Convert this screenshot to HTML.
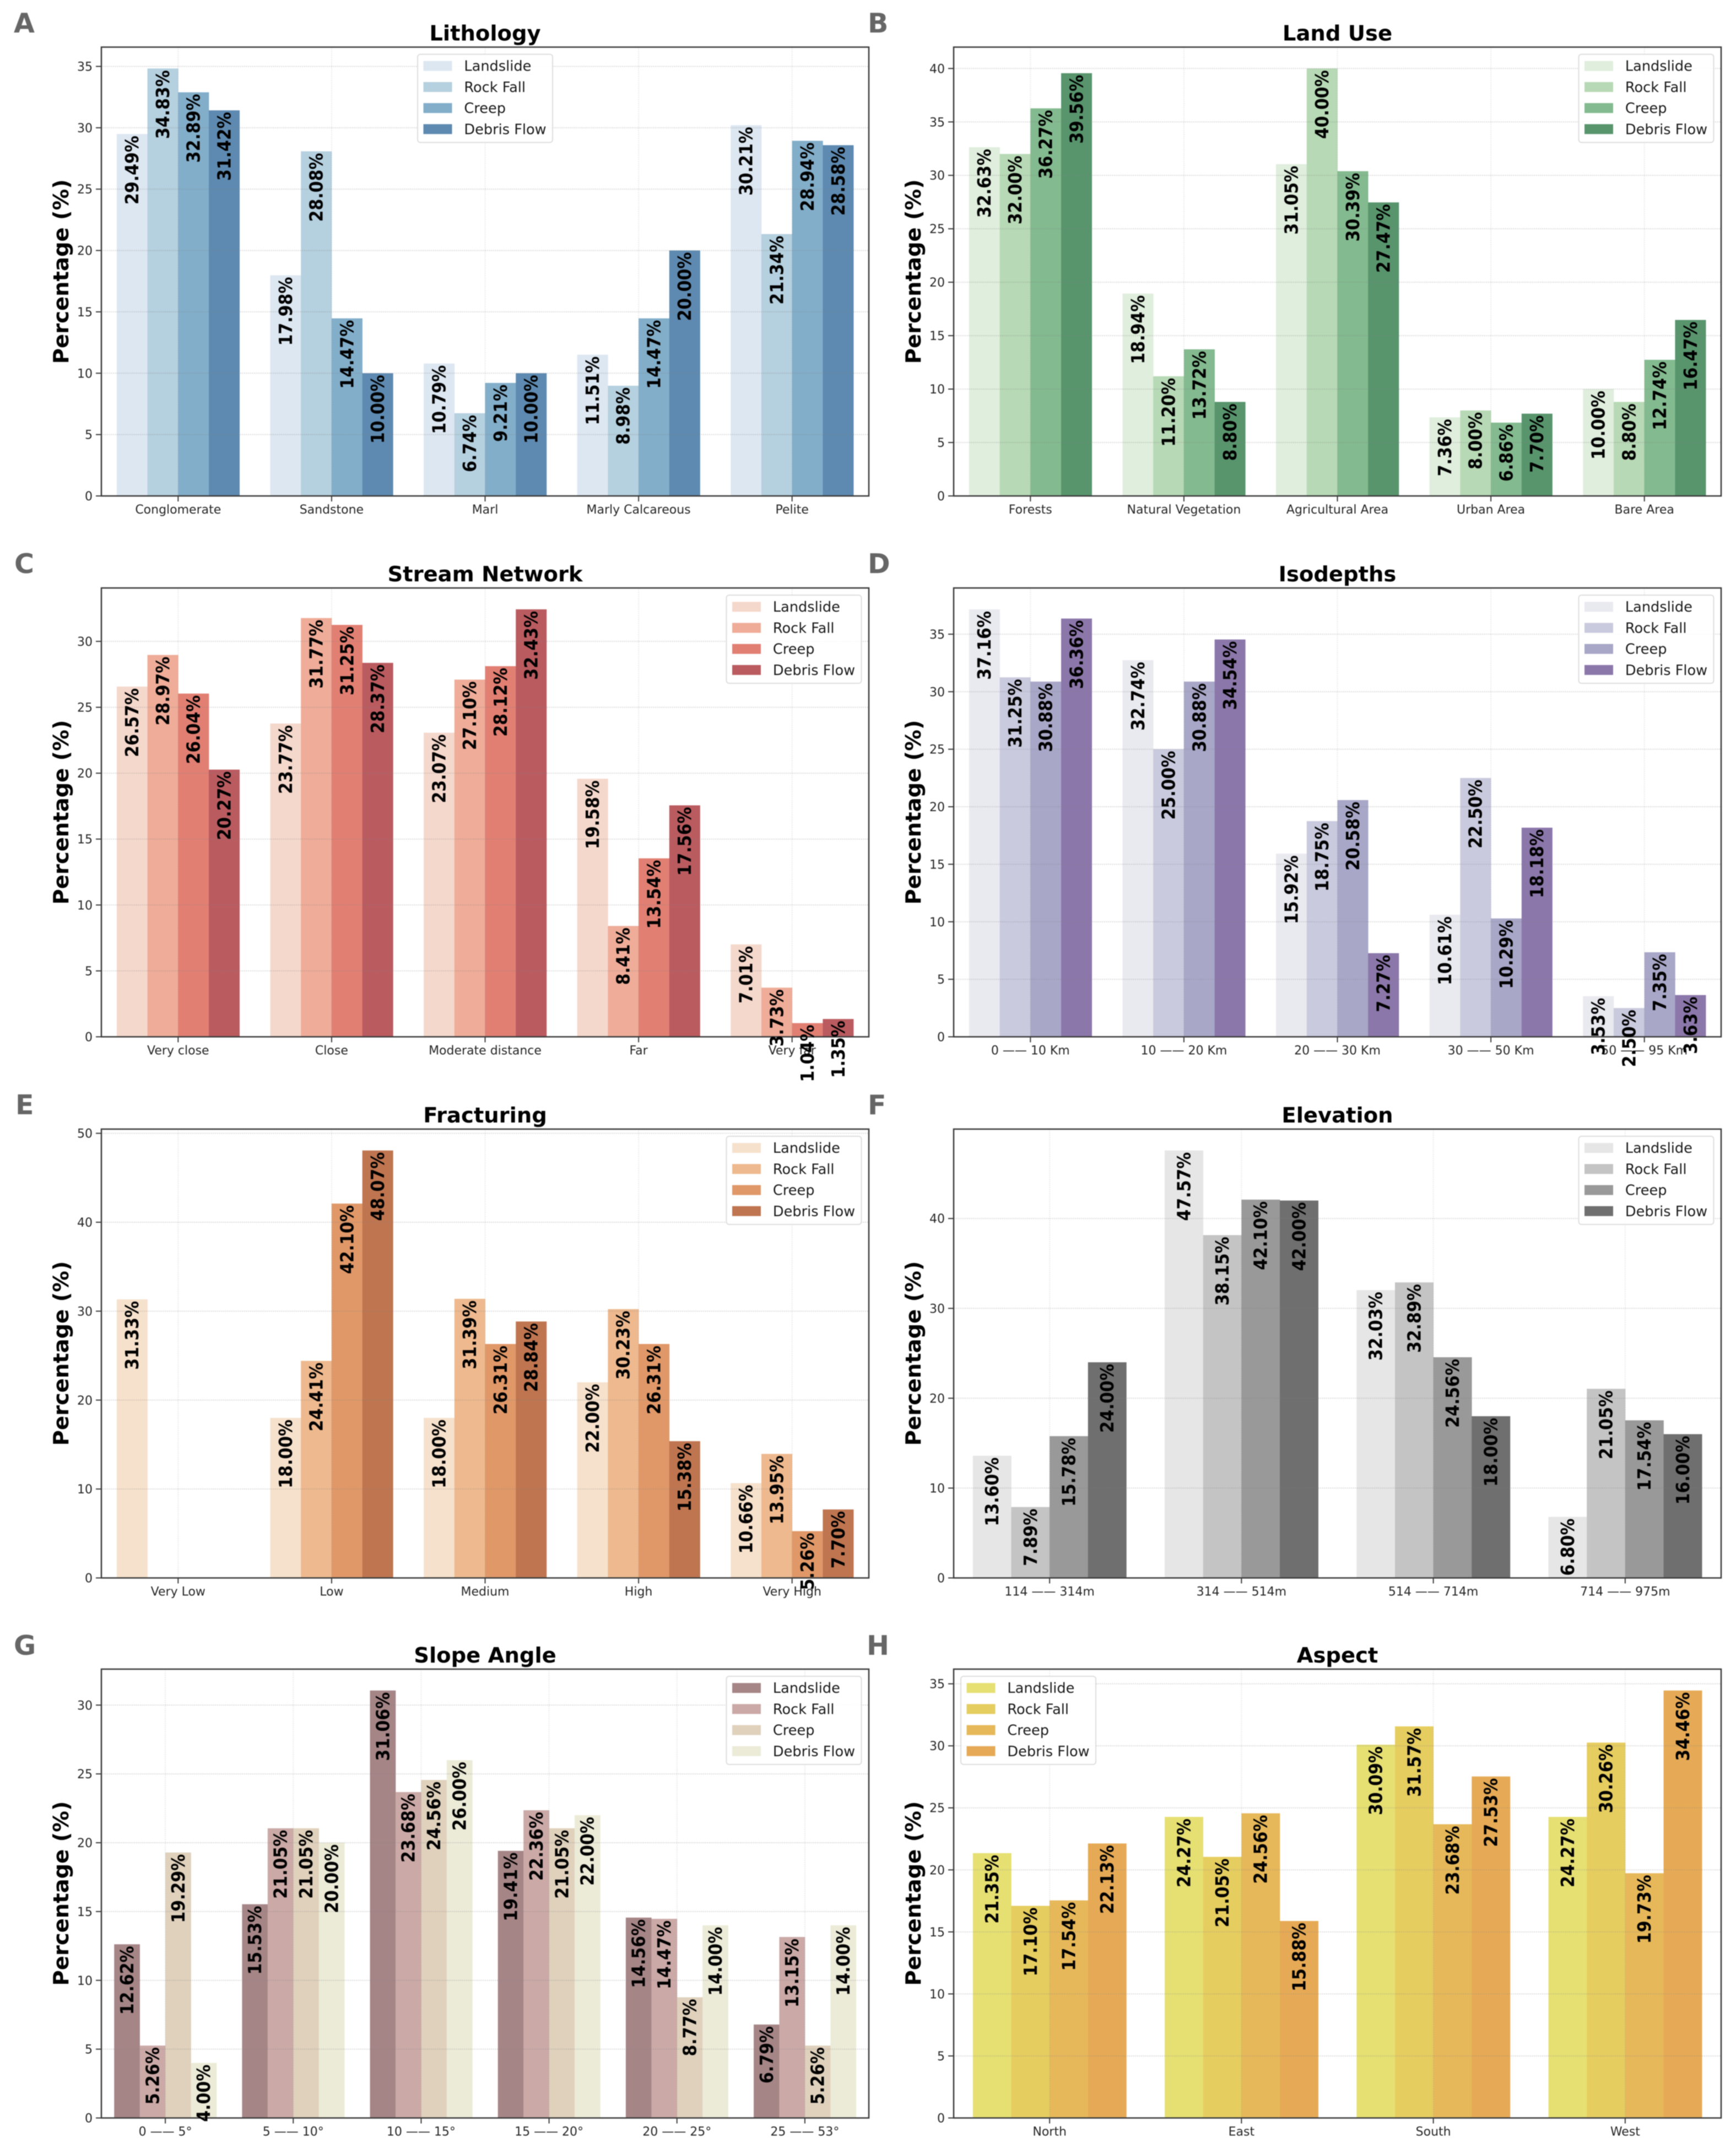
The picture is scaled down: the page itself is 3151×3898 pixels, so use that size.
<!DOCTYPE html>
<html lang="en">
<head>
<meta charset="utf-8">
<title>Percentage of slope movement types by conditioning factor</title>
<style>
html,body{margin:0;padding:0;background:#fff;width:3151px;height:3898px;overflow:hidden}
svg{display:block;filter:blur(.7px)}
text{font-family:"DejaVu Sans","Liberation Sans",sans-serif}
.letter{font-size:49px;font-weight:700;fill:#666}
.title{font-size:38.5px;font-weight:700;fill:#000;text-anchor:middle}
.ylab{font-size:38.5px;font-weight:700;fill:#000;text-anchor:middle}
.lf{fill:#fff;fill-opacity:.85;stroke:#dedede;stroke-width:2}
.lt{font-size:25.6px;fill:#1a1a1a}
</style>
</head>
<body>
<svg xmlns="http://www.w3.org/2000/svg" width="3151" height="3898" viewBox="0 0 3151 3898">
<rect width="3151" height="3898" fill="#fff"/>

<g>
<text class="letter" x="25" y="59">A</text>
<text class="title" x="880.5" y="73.5">Lithology</text>
<text class="ylab" transform="translate(124,492.75) rotate(-90)">Percentage (%)</text>
<g id="plot-a"></g>
<g transform="translate(758,98.5)">
<rect class="lf" width="245" height="160" rx="5"/>
<rect x="10.5" y="12.2" width="52" height="18" fill="#dde7f1"/><text class="lt" x="84.4" y="30.2">Landslide</text>
<rect x="10.5" y="50.4" width="52" height="18" fill="#b5d0df"/><text class="lt" x="84.4" y="68.4">Rock Fall</text>
<rect x="10.5" y="88.6" width="52" height="18" fill="#82aeca"/><text class="lt" x="84.4" y="106.6">Creep</text>
<rect x="10.5" y="126.8" width="52" height="18" fill="#5e8ab1"/><text class="lt" x="84.4" y="144.8">Debris Flow</text>
</g>
</g>

<g>
<text class="letter" x="1575" y="59">B</text>
<text class="title" x="2427.5" y="73.5">Land Use</text>
<text class="ylab" transform="translate(1671,492.75) rotate(-90)">Percentage (%)</text>
<g id="plot-b"></g>
<g transform="translate(2865.5,98.5)">
<rect class="lf" width="245" height="160" rx="5"/>
<rect x="10.5" y="12.2" width="52" height="18" fill="#dfeedd"/><text class="lt" x="84.4" y="30.2">Landslide</text>
<rect x="10.5" y="50.4" width="52" height="18" fill="#b7d9b5"/><text class="lt" x="84.4" y="68.4">Rock Fall</text>
<rect x="10.5" y="88.6" width="52" height="18" fill="#83ba8f"/><text class="lt" x="84.4" y="106.6">Creep</text>
<rect x="10.5" y="126.8" width="52" height="18" fill="#58956d"/><text class="lt" x="84.4" y="144.8">Debris Flow</text>
</g>
</g>

<g>
<text class="letter" x="26" y="1040">C</text>
<text class="title" x="880.5" y="1055">Stream Network</text>
<text class="ylab" transform="translate(124,1474) rotate(-90)">Percentage (%)</text>
<g id="plot-c"></g>
<g transform="translate(1318.5,1080)">
<rect class="lf" width="245" height="160" rx="5"/>
<rect x="10.5" y="12.2" width="52" height="18" fill="#f5d8cc"/><text class="lt" x="84.4" y="30.2">Landslide</text>
<rect x="10.5" y="50.4" width="52" height="18" fill="#efac98"/><text class="lt" x="84.4" y="68.4">Rock Fall</text>
<rect x="10.5" y="88.6" width="52" height="18" fill="#e27f73"/><text class="lt" x="84.4" y="106.6">Creep</text>
<rect x="10.5" y="126.8" width="52" height="18" fill="#ba5b60"/><text class="lt" x="84.4" y="144.8">Debris Flow</text>
</g>
</g>

<g>
<text class="letter" x="1575" y="1040">D</text>
<text class="title" x="2427.5" y="1055">Isodepths</text>
<text class="ylab" transform="translate(1671,1474) rotate(-90)">Percentage (%)</text>
<g id="plot-d"></g>
<g transform="translate(2865.5,1080)">
<rect class="lf" width="245" height="160" rx="5"/>
<rect x="10.5" y="12.2" width="52" height="18" fill="#e9e9f0"/><text class="lt" x="84.4" y="30.2">Landslide</text>
<rect x="10.5" y="50.4" width="52" height="18" fill="#c9cade"/><text class="lt" x="84.4" y="68.4">Rock Fall</text>
<rect x="10.5" y="88.6" width="52" height="18" fill="#a8a7c8"/><text class="lt" x="84.4" y="106.6">Creep</text>
<rect x="10.5" y="126.8" width="52" height="18" fill="#8c77ab"/><text class="lt" x="84.4" y="144.8">Debris Flow</text>
</g>
</g>

<g>
<text class="letter" x="28" y="2022">E</text>
<text class="title" x="880.5" y="2037">Fracturing</text>
<text class="ylab" transform="translate(124,2456) rotate(-90)">Percentage (%)</text>
<g id="plot-e"></g>
<g transform="translate(1318.5,2062)">
<rect class="lf" width="245" height="160" rx="5"/>
<rect x="10.5" y="12.2" width="52" height="18" fill="#f6e1cc"/><text class="lt" x="84.4" y="30.2">Landslide</text>
<rect x="10.5" y="50.4" width="52" height="18" fill="#eeb98e"/><text class="lt" x="84.4" y="68.4">Rock Fall</text>
<rect x="10.5" y="88.6" width="52" height="18" fill="#e09868"/><text class="lt" x="84.4" y="106.6">Creep</text>
<rect x="10.5" y="126.8" width="52" height="18" fill="#bf7550"/><text class="lt" x="84.4" y="144.8">Debris Flow</text>
</g>
</g>

<g>
<text class="letter" x="1575" y="2022">F</text>
<text class="title" x="2427.5" y="2037">Elevation</text>
<text class="ylab" transform="translate(1671,2456) rotate(-90)">Percentage (%)</text>
<g id="plot-f"></g>
<g transform="translate(2865.5,2062)">
<rect class="lf" width="245" height="160" rx="5"/>
<rect x="10.5" y="12.2" width="52" height="18" fill="#e6e6e6"/><text class="lt" x="84.4" y="30.2">Landslide</text>
<rect x="10.5" y="50.4" width="52" height="18" fill="#c4c4c4"/><text class="lt" x="84.4" y="68.4">Rock Fall</text>
<rect x="10.5" y="88.6" width="52" height="18" fill="#999999"/><text class="lt" x="84.4" y="106.6">Creep</text>
<rect x="10.5" y="126.8" width="52" height="18" fill="#6f6f6f"/><text class="lt" x="84.4" y="144.8">Debris Flow</text>
</g>
</g>

<g>
<text class="letter" x="25" y="3003">G</text>
<text class="title" x="880.5" y="3017">Slope Angle</text>
<text class="ylab" transform="translate(124,3436) rotate(-90)">Percentage (%)</text>
<g id="plot-g"></g>
<g transform="translate(1318.5,3042)">
<rect class="lf" width="245" height="160" rx="5"/>
<rect x="10.5" y="12.2" width="52" height="18" fill="#a68587"/><text class="lt" x="84.4" y="30.2">Landslide</text>
<rect x="10.5" y="50.4" width="52" height="18" fill="#cba9a7"/><text class="lt" x="84.4" y="68.4">Rock Fall</text>
<rect x="10.5" y="88.6" width="52" height="18" fill="#dfd1bc"/><text class="lt" x="84.4" y="106.6">Creep</text>
<rect x="10.5" y="126.8" width="52" height="18" fill="#ecebd8"/><text class="lt" x="84.4" y="144.8">Debris Flow</text>
</g>
</g>

<g>
<text class="letter" x="1573" y="3003">H</text>
<text class="title" x="2427.5" y="3017">Aspect</text>
<text class="ylab" transform="translate(1671,3436) rotate(-90)">Percentage (%)</text>
<g id="plot-h"></g>
<g transform="translate(1744,3042)">
<rect class="lf" width="245" height="160" rx="5"/>
<rect x="10.5" y="12.2" width="52" height="18" fill="#e6e073"/><text class="lt" x="84.4" y="30.2">Landslide</text>
<rect x="10.5" y="50.4" width="52" height="18" fill="#e6cd60"/><text class="lt" x="84.4" y="68.4">Rock Fall</text>
<rect x="10.5" y="88.6" width="52" height="18" fill="#e6b85a"/><text class="lt" x="84.4" y="106.6">Creep</text>
<rect x="10.5" y="126.8" width="52" height="18" fill="#e6aa56"/><text class="lt" x="84.4" y="144.8">Debris Flow</text>
</g>
</g>
</svg>

<script>
// Panel A: Lithology
const lithologyCategories = ["Conglomerate", "Sandstone", "Marl", "Marly Calcareous", "Pelite"];
const lithologyLandslide = [29.49, 17.98, 10.79, 11.51, 30.21];
const lithologyRockFall = [34.83, 28.08, 6.74, 8.98, 21.34];
const lithologyCreep = [32.89, 14.47, 9.21, 14.47, 28.94];
const lithologyDebrisFlow = [31.42, 10.00, 10.00, 20.00, 28.58];
const lithologyTicks = [0, 5, 10, 15, 20, 25, 30, 35];

// Panel B: Land Use
const landUseCategories = ["Forests", "Natural Vegetation", "Agricultural Area", "Urban Area", "Bare Area"];
const landUseLandslide = [32.63, 18.94, 31.05, 7.36, 10.00];
const landUseRockFall = [32.00, 11.20, 40.00, 8.00, 8.80];
const landUseCreep = [36.27, 13.72, 30.39, 6.86, 12.74];
const landUseDebrisFlow = [39.56, 8.80, 27.47, 7.70, 16.47];
const landUseTicks = [0, 5, 10, 15, 20, 25, 30, 35, 40];

// Panel C: Stream Network
const streamCategories = ["Very close", "Close", "Moderate distance", "Far", "Very far"];
const streamLandslide = [26.57, 23.77, 23.07, 19.58, 7.01];
const streamRockFall = [28.97, 31.77, 27.10, 8.41, 3.73];
const streamCreep = [26.04, 31.25, 28.12, 13.54, 1.04];
const streamDebrisFlow = [20.27, 28.37, 32.43, 17.56, 1.35];
const streamTicks = [0, 5, 10, 15, 20, 25, 30];

// Panel D: Isodepths
const isodepthCategories = ["0 —— 10 Km", "10 —— 20 Km", "20 —— 30 Km", "30 —— 50 Km", "50 —— 95 Km"];
const isodepthLandslide = [37.16, 32.74, 15.92, 10.61, 3.53];
const isodepthRockFall = [31.25, 25.00, 18.75, 22.50, 2.50];
const isodepthCreep = [30.88, 30.88, 20.58, 10.29, 7.35];
const isodepthDebrisFlow = [36.36, 34.54, 7.27, 18.18, 3.63];
const isodepthTicks = [0, 5, 10, 15, 20, 25, 30, 35];

// Panel E: Fracturing
const fracturingCategories = ["Very Low", "Low", "Medium", "High", "Very High"];
const fracturingLandslide = [31.33, 18.00, 18.00, 22.00, 10.66];
const fracturingRockFall = [0, 24.41, 31.39, 30.23, 13.95];
const fracturingCreep = [0, 42.10, 26.31, 26.31, 5.26];
const fracturingDebrisFlow = [0, 48.07, 28.84, 15.38, 7.70];
const fracturingTicks = [0, 10, 20, 30, 40, 50];

// Panel F: Elevation
const elevationCategories = ["114 —— 314m", "314 —— 514m", "514 —— 714m", "714 —— 975m"];
const elevationLandslide = [13.60, 47.57, 32.03, 6.80];
const elevationRockFall = [7.89, 38.15, 32.89, 21.05];
const elevationCreep = [15.78, 42.10, 24.56, 17.54];
const elevationDebrisFlow = [24.00, 42.00, 18.00, 16.00];
const elevationTicks = [0, 10, 20, 30, 40];

// Panel G: Slope Angle
const slopeCategories = ["0 —— 5°", "5 —— 10°", "10 —— 15°", "15 —— 20°", "20 —— 25°", "25 —— 53°"];
const slopeLandslide = [12.62, 15.53, 31.06, 19.41, 14.56, 6.79];
const slopeRockFall = [5.26, 21.05, 23.68, 22.36, 14.47, 13.15];
const slopeCreep = [19.29, 21.05, 24.56, 21.05, 8.77, 5.26];
const slopeDebrisFlow = [4.00, 20.00, 26.00, 22.00, 14.00, 14.00];
const slopeTicks = [0, 5, 10, 15, 20, 25, 30];

// Panel H: Aspect
const aspectCategories = ["North", "East", "South", "West"];
const aspectLandslide = [21.35, 24.27, 30.09, 24.27];
const aspectRockFall = [17.10, 21.05, 31.57, 30.26];
const aspectCreep = [17.54, 24.56, 23.68, 19.73];
const aspectDebrisFlow = [22.13, 15.88, 27.53, 34.46];
const aspectTicks = [0, 5, 10, 15, 20, 25, 30, 35];

const SVG_NS = "http://www.w3.org/2000/svg";
const PLOT_WIDTH = 1393;
const PLOT_HEIGHT = 814.5;
const SERIES_KEYS = ["landslide", "rock-fall", "creep", "debris-flow"];

function make(parent, tag, attrs, text) {
  const el = document.createElementNS(SVG_NS, tag);
  for (const k in attrs) el.setAttribute(k, attrs[k]);
  if (text !== undefined) el.textContent = text;
  parent.appendChild(el);
  return el;
}

function drawPanel(panel) {
  const root = document.getElementById(panel.id);
  const n = panel.categories.length;
  const all = panel.series.reduce(function (acc, s) { return acc.concat(s); }, []);
  const yMax = Math.max.apply(null, all) * 1.05;
  const unit = PLOT_WIDTH / n;
  const barW = unit * 0.2;
  const xCenter = function (i) { return panel.left + (i + 0.5) * unit; };
  const xBar = function (i, s) { return xCenter(i) + (s - 2) * barW; };
  const yPos = function (v) { return panel.top + PLOT_HEIGHT * (1 - v / yMax); };
  const bottom = panel.top + PLOT_HEIGHT;

  const bg = make(root, "rect", { x: panel.left, y: panel.top, width: PLOT_WIDTH, height: PLOT_HEIGHT, fill: "#fff" });
  
  

  const barLayer = make(root, "g", {});
  
  
  panel.series.forEach(function (values, s) {
    values.forEach(function (v, i) {
      if (v <= 0) return;
      const bar = make(barLayer, "rect", { x: xBar(i, s), y: yPos(v), width: barW + 0.3, height: bottom - yPos(v), fill: panel.colors[s] });
      
      
    });
  });

  const gridLayer = make(root, "g", { fill: "none", stroke: "rgba(130,130,130,.27)", "stroke-width": 2, "stroke-dasharray": "2 1.5" });
  
  
  panel.ticks.forEach(function (t) {
    if (t === 0) return;
    const line = make(gridLayer, "line", { x1: panel.left, x2: panel.left + PLOT_WIDTH, y1: yPos(t), y2: yPos(t) });
    
    
  });
  panel.categories.forEach(function (c, i) {
    const line = make(gridLayer, "line", { x1: xCenter(i), x2: xCenter(i), y1: panel.top, y2: bottom, stroke: "rgba(130,130,130,.16)" });
    
    
  });

  const frame = make(root, "rect", { x: panel.left, y: panel.top, width: PLOT_WIDTH, height: PLOT_HEIGHT, fill: "none", stroke: "#3c3c3c", "stroke-width": 2.5 });
  
  

  panel.ticks.forEach(function (t) {
    const mark = make(root, "line", { x1: panel.left - 10, x2: panel.left, y1: yPos(t), y2: yPos(t), stroke: "#3c3c3c", "stroke-width": 2 });
    
    
    const label = make(root, "text", { x: panel.left - 16, y: yPos(t) + 8, "text-anchor": "end", "font-size": 22, fill: "#262626" }, String(t));
    
    
  });

  panel.categories.forEach(function (c, i) {
    const mark = make(root, "line", { x1: xCenter(i), x2: xCenter(i), y1: bottom, y2: bottom + 10, stroke: "#3c3c3c", "stroke-width": 2 });
    
    
    const label = make(root, "text", { x: xCenter(i), y: bottom + 32, "text-anchor": "middle", "font-size": 22, fill: "#262626" }, c);
    
    
  });

  const labelLayer = make(root, "g", {});
  
  
  panel.series.forEach(function (values, s) {
    values.forEach(function (v, i) {
      if (v <= 0) return;
      const cx = xBar(i, s) + barW / 2 + 11.5;
      const top = yPos(v) + 3;
      const label = make(labelLayer, "text", { transform: "translate(" + cx + "," + top + ") rotate(-90) scale(1,1.1)", "text-anchor": "end", "font-size": 30, "font-weight": 700, fill: "#000" }, v.toFixed(2) + "%");
      
      
    });
  });
}

const panels = [
  { id: "plot-a", left: 184, top: 85.5, categories: lithologyCategories, ticks: lithologyTicks, series: [lithologyLandslide, lithologyRockFall, lithologyCreep, lithologyDebrisFlow], colors: ["#dde7f1", "#b5d0df", "#82aeca", "#5e8ab1"] },
  { id: "plot-b", left: 1731, top: 85.5, categories: landUseCategories, ticks: landUseTicks, series: [landUseLandslide, landUseRockFall, landUseCreep, landUseDebrisFlow], colors: ["#dfeedd", "#b7d9b5", "#83ba8f", "#58956d"] },
  { id: "plot-c", left: 184, top: 1067, categories: streamCategories, ticks: streamTicks, series: [streamLandslide, streamRockFall, streamCreep, streamDebrisFlow], colors: ["#f5d8cc", "#efac98", "#e27f73", "#ba5b60"] },
  { id: "plot-d", left: 1731, top: 1067, categories: isodepthCategories, ticks: isodepthTicks, series: [isodepthLandslide, isodepthRockFall, isodepthCreep, isodepthDebrisFlow], colors: ["#e9e9f0", "#c9cade", "#a8a7c8", "#8c77ab"] },
  { id: "plot-e", left: 184, top: 2049, categories: fracturingCategories, ticks: fracturingTicks, series: [fracturingLandslide, fracturingRockFall, fracturingCreep, fracturingDebrisFlow], colors: ["#f6e1cc", "#eeb98e", "#e09868", "#bf7550"] },
  { id: "plot-f", left: 1731, top: 2049, categories: elevationCategories, ticks: elevationTicks, series: [elevationLandslide, elevationRockFall, elevationCreep, elevationDebrisFlow], colors: ["#e6e6e6", "#c4c4c4", "#999999", "#6f6f6f"] },
  { id: "plot-g", left: 184, top: 3029, categories: slopeCategories, ticks: slopeTicks, series: [slopeLandslide, slopeRockFall, slopeCreep, slopeDebrisFlow], colors: ["#a68587", "#cba9a7", "#dfd1bc", "#ecebd8"] },
  { id: "plot-h", left: 1731, top: 3029, categories: aspectCategories, ticks: aspectTicks, series: [aspectLandslide, aspectRockFall, aspectCreep, aspectDebrisFlow], colors: ["#e6e073", "#e6cd60", "#e6b85a", "#e6aa56"] }
];

panels.forEach(drawPanel);
</script>
</body>
</html>
